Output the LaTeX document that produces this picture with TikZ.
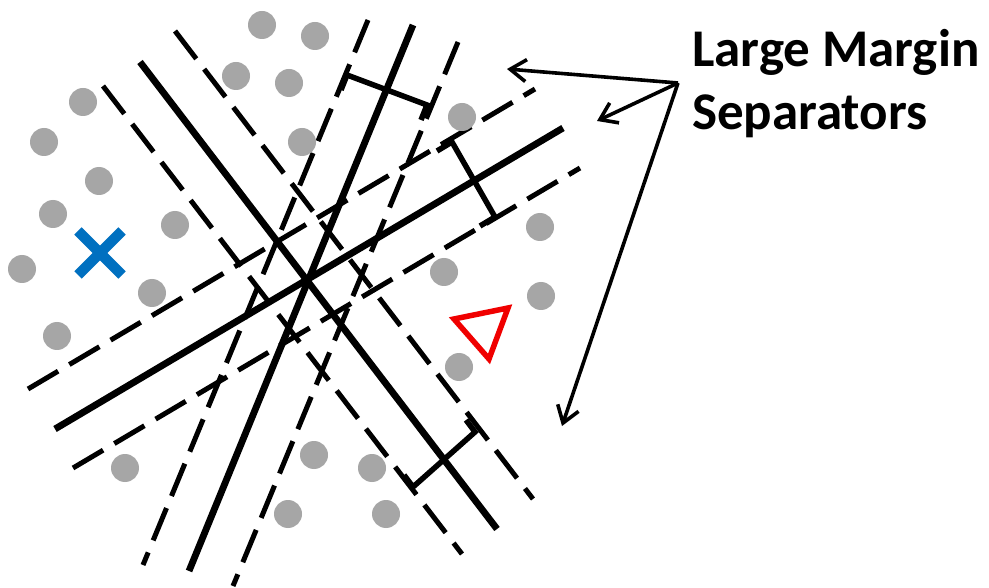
\documentclass[tikz,border=0pt]{standalone}
\usepackage{fontspec}
\setmainfont{Carlito}
\usetikzlibrary{arrows.meta,calc}
\definecolor{dotgray}{RGB}{166,166,166}
\definecolor{xblue}{RGB}{0,112,192}
\definecolor{trired}{RGB}{240,0,0}
\begin{document}
\begin{tikzpicture}[x=1pt,y=-1pt,
  solidsep/.style={line width=6.8pt},
  dashsep/.style={line width=5pt,dash pattern=on 35pt off 13pt},
  bracketline/.style={line width=5.5pt,line join=miter},
  dot/.style={circle,fill=dotgray,inner sep=0pt,minimum size=28pt},
  callout/.style={line width=3.6pt,-{Straight Barb[length=16pt,width=22pt]}},
  lbl/.style={font=\fontsize{53}{63}\selectfont\bfseries,inner sep=0pt,anchor=base west}]
\useasboundingbox[fill=white] (0,0) rectangle (989,588);

% ---- separator 1 (steep)
\coordinate (s1a) at (413,25);  \coordinate (s1b) at (189,571);
\coordinate (s1la) at (368,20); \coordinate (s1lb) at (143,565);
\coordinate (s1ra) at (458,42); \coordinate (s1rb) at (233,586);
\draw[solidsep] (s1a) -- (s1b);
\draw[dashsep] (s1la) -- (s1lb);
\draw[dashsep] (s1ra) -- (s1rb);
\coordinate (b1a) at (347,75); \coordinate (b1b) at (427,105);
\draw[bracketline] ($(b1a)+(-6,15)$) -- (b1a) -- (b1b) -- ($(b1b)+(-6,15)$);

% ---- separator 2 (upper-left to lower-right)
\coordinate (s2a) at (140,62);  \coordinate (s2b) at (497,529);
\coordinate (s2ua) at (175,31); \coordinate (s2ub) at (533,499);
\coordinate (s2la) at (103,86); \coordinate (s2lb) at (462,554);
\draw[solidsep] (s2a) -- (s2b);
\draw[dashsep] (s2ua) -- (s2ub);
\draw[dashsep] (s2la) -- (s2lb);
\coordinate (b2a) at (413,487); \coordinate (b2b) at (475,432);
\draw[bracketline] ($(b2a)+(-9,-12)$) -- (b2a) -- (b2b) -- ($(b2b)+(-9,-12)$);

% ---- separator 3 (shallow)
\coordinate (s3a) at (55,429);  \coordinate (s3b) at (563,128);
\coordinate (s3ua) at (28,389); \coordinate (s3ub) at (535,89);
\coordinate (s3la) at (73,468); \coordinate (s3lb) at (580,168);
\draw[solidsep] (s3a) -- (s3b);
\draw[dashsep] (s3ua) -- (s3ub);
\draw[dashsep] (s3la) -- (s3lb);
\coordinate (b3a) at (452,142); \coordinate (b3b) at (495,217);
\draw[bracketline] ($(b3a)+(-15,9)$) -- (b3a) -- (b3b) -- ($(b3b)+(-15,9)$);

% ---- data points
\foreach \p [count=\i] in {(262,25),(315,36),(236,76),(289,83),(83,102),(44,142),
  (302,142),(462,117),(99,181),(53,214),(175,225),(540,227),(22,269),(444,272),
  (152,293),(541,296),(57,336),(459,367),(125,468),(314,455),(372,468),(288,514),(386,514)}
  \node[dot] (d\i) at \p {};

% ---- blue cross
\coordinate (xa) at (78,231); \coordinate (xb) at (122,275);
\coordinate (xc) at (78,275); \coordinate (xd) at (122,231);
\draw[xblue,line width=10.5pt] (xa) -- (xb);
\draw[xblue,line width=10.5pt] (xc) -- (xd);

% ---- red triangle
\coordinate (ta) at (454,319); \coordinate (tb) at (508,308); \coordinate (tc) at (489,359);
\draw[trired,line width=5.5pt,line join=miter] (ta) -- (tb) -- (tc) -- cycle;

% ---- label and callouts
\node[lbl] (lbl1) at (692,67) {Large Margin};
\node[lbl] (lbl2) at (692,130) {Separators};
\coordinate (hub) at (678,83);
\coordinate (t1) at (507,69);
\coordinate (t2) at (597,121);
\coordinate (t3) at (562,426);
\draw[callout] (hub) -- (t1);
\draw[callout] (hub) -- (t2);
\draw[callout] (hub) -- (t3);
\end{tikzpicture}
\end{document}
